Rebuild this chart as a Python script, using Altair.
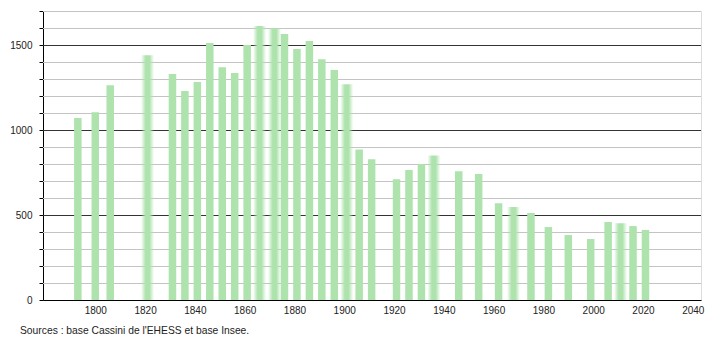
import altair as alt
import pandas as pd

years = [1793, 1800, 1806, 1821, 1831, 1836, 1841, 1846, 1851, 1856, 1861, 1866,
         1872, 1876, 1881, 1886, 1891, 1896, 1901, 1906, 1911, 1921, 1926, 1931,
         1936, 1946, 1954, 1962, 1968, 1975, 1982, 1990, 1999, 2006, 2011, 2016, 2021]
population = [1070, 1105, 1263, 1439, 1329, 1229, 1282, 1512, 1369, 1335, 1500, 1612,
              1598, 1565, 1476, 1524, 1416, 1353, 1269, 886, 828, 710, 765, 800,
              850, 758, 741, 569, 547, 512, 429, 382, 359, 459, 451, 435, 412]
fuzzy_years = [1821, 1866, 1872, 1901, 1936, 1968, 2011]
x_ticks = list(range(1800, 2041, 20))
y_ticks = list(range(0, 1701, 100))
y_minor = [v for v in range(100, 1701, 100) if v % 500]
y_major = [500, 1000, 1500]
source_text = "Sources : base Cassini de l'EHESS et base Insee."

GREEN = "#aee3ae"
FONT = "Liberation Sans"
W, H = 658, 289

df = pd.DataFrame({"year": years, "pop": population})
df["fuzzy"] = df["year"].isin(fuzzy_years)

xs = alt.Scale(domain=[1779, 2043.3], nice=False, zero=False, padding=0)
ys = alt.Scale(domain=[0, 1700], nice=False, padding=0)

x_axis = alt.Axis(values=x_ticks, ticks=False, grid=False, domainColor="black",
                  labelFont=FONT, labelFontSize=10, labelColor="#222", format="d",
                  labelPadding=5, title=None, labelFlush=False)
y_axis = alt.Axis(values=y_ticks, grid=False, domainColor="black", tickColor="black",
                  tickSize=4, labelFont=FONT, labelFontSize=10, labelColor="#222",
                  labelPadding=7, title=None,
                  labelExpr="datum.value % 500 == 0 ? format(datum.value, 'd') : ''")

minor = alt.Chart(pd.DataFrame({"v": y_minor})).mark_rule(
    color="#c4c4c4", strokeWidth=1, yOffset=0.5
).encode(y=alt.Y("v:Q", scale=ys, axis=y_axis), x=alt.value(0), x2=alt.value(W))

major = alt.Chart(pd.DataFrame({"v": y_major})).mark_rule(
    color="#333333", strokeWidth=1, yOffset=0.5
).encode(y=alt.Y("v:Q", scale=ys, axis=y_axis), x=alt.value(0), x2=alt.value(W))

bars = alt.Chart(df).transform_filter("!datum.fuzzy").mark_bar(
    size=7.5, color=GREEN
).encode(
    x=alt.X("year:Q", scale=xs, axis=x_axis),
    y=alt.Y("pop:Q", scale=ys, axis=y_axis),
)

grad = alt.Gradient(
    gradient="linear", x1=0, x2=1, y1=0, y2=0,
    stops=[
        alt.GradientStop(offset=0, color="rgba(174,227,174,0)"),
        alt.GradientStop(offset=0.35, color="rgba(174,227,174,1)"),
        alt.GradientStop(offset=0.65, color="rgba(174,227,174,1)"),
        alt.GradientStop(offset=1, color="rgba(174,227,174,0)"),
    ],
)
fuzzy = alt.Chart(df).transform_filter("datum.fuzzy").mark_bar(
    size=13, color=grad
).encode(
    x=alt.X("year:Q", scale=xs, axis=x_axis),
    y=alt.Y("pop:Q", scale=ys, axis=y_axis),
)

source = alt.Chart(pd.DataFrame({"t": [source_text]})).mark_text(
    align="left", baseline="alphabetic", fontSize=10.3, font=FONT, color="#222"
).encode(text="t:N", x=alt.value(-23), y=alt.value(322.5))

chart = alt.layer(minor, major, bars, fuzzy, source).properties(
    width=W, height=H,
    autosize=alt.AutoSizeParams(type="none"),
    padding={"left": 43, "top": 11, "right": 9, "bottom": 40},
).configure_view(stroke=None).configure(background="white")

chart.save("out.html", embed_options={"renderer": "svg", "actions": False})
